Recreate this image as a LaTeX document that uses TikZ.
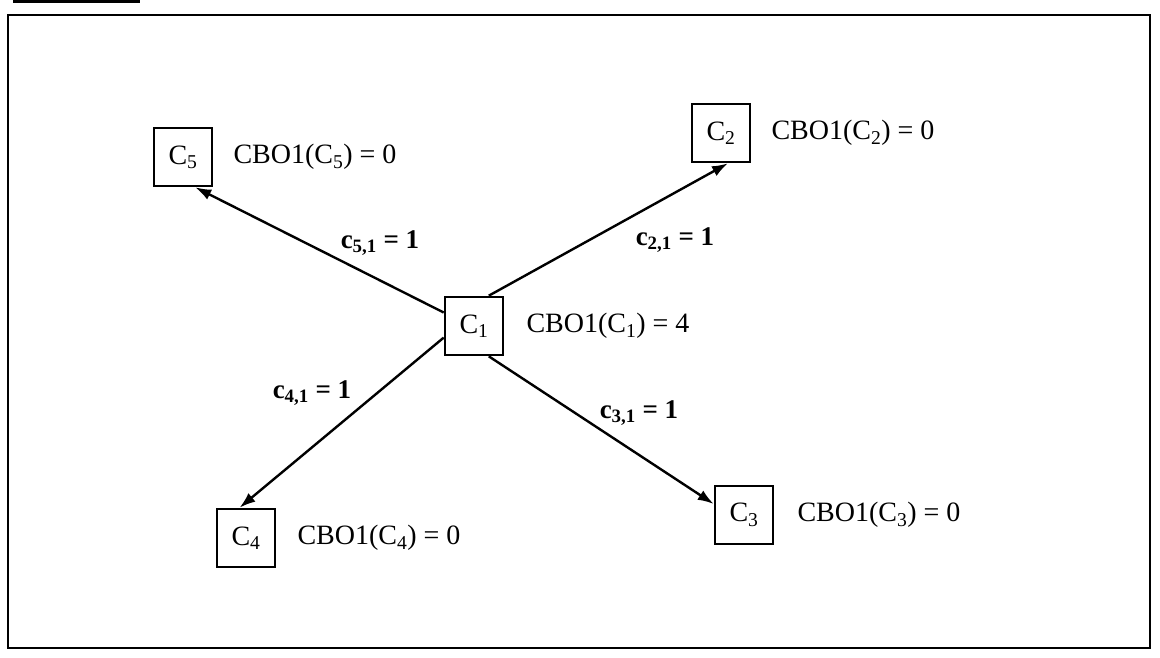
\documentclass[tikz,border=0pt]{standalone}
\usepackage{fontspec}
\setmainfont{Liberation Serif}
\usetikzlibrary{arrows.meta,positioning}

\begin{document}
\begin{tikzpicture}[x=1pt, y=-1pt,
  every node/.style={font=\fontsize{28}{32}\selectfont, inner sep=0pt},
  node distance=20pt,
  cls/.style={draw, line width=2.6pt, minimum size=58pt},
  lbl/.style={font=\fontsize{27}{32}\selectfont\bfseries},
  dep/.style={-{Latex[length=16pt,width=11pt]}, line width=2.4pt}]
\useasboundingbox (0,0) rectangle (1160,657);
\fill (13,0) rectangle (140,3);
\draw[line width=2.5pt] (8,15) rectangle (1150,648);
% classes
\node[cls] (c1) at (474,326) {C\textsubscript{1}};
\node[cls] (c2) at (721,133) {C\textsubscript{2}};
\node[cls] (c3) at (744,515) {C\textsubscript{3}};
\node[cls] (c4) at (246,538) {C\textsubscript{4}};
\node[cls] (c5) at (183,157) {C\textsubscript{5}};
% metric values
\node[right=22pt of c1] (m1) {CBO1(C\textsubscript{1}) = 4};
\node[right=20pt of c2] (m2) {CBO1(C\textsubscript{2}) = 0};
\node[right=23pt of c3] (m3) {CBO1(C\textsubscript{3}) = 0};
\node[right=21pt of c4] (m4) {CBO1(C\textsubscript{4}) = 0};
\node[right=20pt of c5] (m5) {CBO1(C\textsubscript{5}) = 0};
% couplings
\draw[dep] (c1.156) -- (c5.-68);
\draw[dep] (c1.64) -- (c2.-77);
\draw[dep] (c1.201) -- (c4.102);
\draw[dep] (c1.-64) -- (c3.160);
\node[lbl] (l51) at (380,243) {c\textsubscript{5,1} = 1};
\node[lbl] (l21) at (675,240) {c\textsubscript{2,1} = 1};
\node[lbl] (l41) at (312,393) {c\textsubscript{4,1} = 1};
\node[lbl] (l31) at (639,413) {c\textsubscript{3,1} = 1};
\end{tikzpicture}
\end{document}
